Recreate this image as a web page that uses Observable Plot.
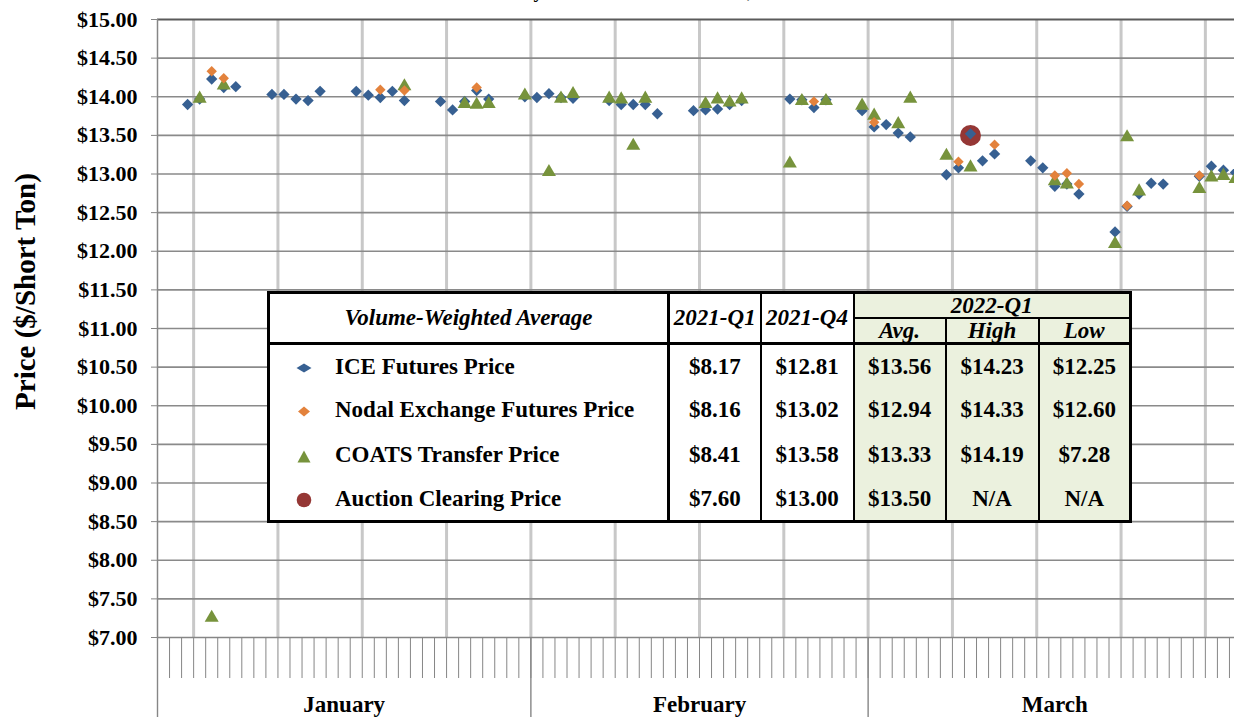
<!DOCTYPE html>
<html><head><meta charset="utf-8">
<script src="https://cdn.jsdelivr.net/npm/d3@7"></script>
<script src="https://cdn.jsdelivr.net/npm/@observablehq/plot@0.6"></script>
<style>
html,body{margin:0;padding:0;overflow:hidden;background:#fff;}
#wrap{position:relative;width:1234px;height:717px;overflow:hidden;}
#wrap svg.plot{position:absolute;left:0;top:0;}
#tbl{position:absolute;left:267px;top:291px;width:862px;height:228px;border-collapse:collapse;table-layout:fixed;
  font:bold 23px "Liberation Serif","Times New Roman",serif;background:#fff;color:#000;border:3px solid #000;}
#tbl td{padding:0;text-align:center;line-height:1;white-space:nowrap;overflow:hidden;}
#tbl .it{font-style:italic;}
#tbl .g{background:#ebf1de;}
#tbl .r3{border-right:3px solid #000;}
#tbl .r2{border-right:2px solid #000;}
#tbl .leg{text-align:left;padding-left:26px;}
#tbl .sym{display:inline-block;width:16px;margin-right:23px;vertical-align:middle;}
#tbl .sym svg{display:block;}
</style></head>
<body><div id="wrap"></div>
<script>
// ---------- data ----------
const iceDates = ["2022-01-03","2022-01-04","2022-01-05","2022-01-06","2022-01-07","2022-01-10","2022-01-11","2022-01-12","2022-01-13","2022-01-14","2022-01-17","2022-01-18","2022-01-19","2022-01-20","2022-01-21","2022-01-24","2022-01-25","2022-01-26","2022-01-27","2022-01-28","2022-01-31",
"2022-02-01","2022-02-02","2022-02-03","2022-02-04","2022-02-07","2022-02-08","2022-02-09","2022-02-10","2022-02-11","2022-02-14","2022-02-15","2022-02-16","2022-02-17","2022-02-18","2022-02-22","2022-02-23","2022-02-24","2022-02-25","2022-02-28",
"2022-03-01","2022-03-02","2022-03-03","2022-03-04","2022-03-07","2022-03-08","2022-03-09","2022-03-10","2022-03-11","2022-03-14","2022-03-15","2022-03-16","2022-03-17","2022-03-18","2022-03-21","2022-03-22","2022-03-23","2022-03-24","2022-03-25","2022-03-28","2022-03-29","2022-03-30","2022-03-31"];
const iceValues = [13.90,13.97,14.23,14.12,14.13,14.03,14.03,13.97,13.95,14.07,14.07,14.02,13.99,14.07,13.95,13.94,13.83,13.94,14.08,13.97,14.00,
13.99,14.04,13.99,13.98,13.95,13.90,13.90,13.90,13.78,13.82,13.83,13.84,13.90,13.95,13.97,13.96,13.86,13.96,13.82,
13.61,13.64,13.53,13.48,12.99,13.08,13.52,13.17,13.26,13.17,13.08,12.84,12.87,12.74,12.25,12.58,12.74,12.88,12.87,12.97,13.10,13.05,13.02];

const nodalDates = ["2022-01-05","2022-01-06","2022-01-19","2022-01-21","2022-01-27","2022-02-24","2022-03-01","2022-03-08","2022-03-11","2022-03-16","2022-03-17","2022-03-18","2022-03-22","2022-03-28"];
const nodalValues = [14.33,14.24,14.09,14.08,14.12,13.94,13.67,13.16,13.38,12.98,13.01,12.87,12.59,12.98];

const coatsDates = ["2022-01-04","2022-01-05","2022-01-06","2022-01-21","2022-01-26","2022-01-27","2022-01-28","2022-01-31",
"2022-02-02","2022-02-03","2022-02-04","2022-02-07","2022-02-08","2022-02-09","2022-02-10","2022-02-15","2022-02-16","2022-02-17","2022-02-18","2022-02-22","2022-02-23","2022-02-25","2022-02-28",
"2022-03-01","2022-03-03","2022-03-04","2022-03-07","2022-03-09","2022-03-16","2022-03-17","2022-03-21","2022-03-22","2022-03-23","2022-03-28","2022-03-29","2022-03-30","2022-03-31"];
const coatsValues = [14.00,7.28,14.17,14.16,13.93,13.92,13.93,14.04,
13.05,14.00,14.06,14.00,13.99,13.39,14.00,13.93,13.99,13.95,13.99,13.16,13.97,13.97,13.91,
13.78,13.67,14.00,13.26,13.11,12.93,12.89,12.12,13.50,12.80,12.83,12.98,13.00,12.96];

const auctionDates = ["2022-03-09"];
const auctionValues = [13.50];

const monthNames = ["January","February","March"];
const monthStartDates = ["2022-01-01","2022-02-01","2022-03-01","2022-04-01"];
const yTicks = [7,7.5,8,8.5,9,9.5,10,10.5,11,11.5,12,12.5,13,13.5,14,14.5,15];
const yLabel = "Price ($/Short Ton)";
const titleText = "Daily carbon allowance trades, 2022";

const tableHeader = "Volume-Weighted Average";
const tableCols = ["2021-Q1","2021-Q4"];
const tableGroup = "2022-Q1";
const tableSubCols = ["Avg.","High","Low"];
const tableSeries = ["ICE Futures Price","Nodal Exchange Futures Price","COATS Transfer Price","Auction Clearing Price"];
const vwa2021Q1 = ["$8.17","$8.16","$8.41","$7.60"];
const vwa2021Q4 = ["$12.81","$13.02","$13.58","$13.00"];
const vwa2022Avg = ["$13.56","$12.94","$13.33","$13.50"];
const vwa2022High = ["$14.23","$14.33","$14.19","N/A"];
const vwa2022Low = ["$12.25","$12.60","$7.28","N/A"];

// ---------- styles ----------
const FONT = '"Liberation Serif","Times New Roman",serif';
const C_ICE = "#376092", C_NODAL = "#e3823c", C_COATS = "#77933c", C_AUCTION = "#953735";

// ---------- helpers ----------
const parse = d3.utcParse("%Y-%m-%d");
const t0 = parse(monthStartDates[0]);
const dayOffset = s => (parse(s) - t0) / 864e5;
const rows = (dates, values) => dates.map((d, i) => ({day: dayOffset(d) + 0.5, price: values[i]}));
const ice = rows(iceDates, iceValues);
const nodal = rows(nodalDates, nodalValues);
const coats = rows(coatsDates, coatsValues);
const auction = rows(auctionDates, auctionValues);

const monthEdges = monthStartDates.map(dayOffset);
const nDays = monthEdges[monthEdges.length - 1];
const dayEdges = d3.range(0, nDays + 1);
const monthMids = monthNames.map((m, i) => (monthEdges[i] + monthEdges[i + 1]) / 2);
const weekGrid = d3.utcTuesday.range(t0, parse(monthStartDates[3])).map(d => (d - t0) / 864e5);

// title placement (only its lowest part shows at the top edge, as in the reference)
const cv = document.createElement("canvas").getContext("2d");
cv.font = `bold 20px ${FONT}`;
const wA = cv.measureText("Dail").width, wB = cv.measureText("Daily carbon allowance trades").width;
const titleSize = 20 * 214 / (wB - wA);
const titleDx = 533 - wA * titleSize / 20 - (157 + 1241) / 2;

const chart = Plot.plot({
  width: 1245, height: 717,
  marginLeft: 157, marginRight: 4, marginTop: 19, marginBottom: 80,
  x: {domain: [0, nDays], axis: null, label: null},
  y: {domain: [7, 15], axis: null, label: null},
  style: {fontFamily: FONT, fontSize: "22px", fontWeight: "bold", color: "#000", background: "transparent", maxWidth: "none", overflow: "visible"},
  marks: [
    Plot.ruleX(weekGrid, {stroke: "#c8c8c8", strokeWidth: 3}),
    Plot.ruleY(yTicks.filter(v => v > 7 && v < 15), {stroke: "#8a8a8a", strokeWidth: 1.6}),
    Plot.ruleY([15], {stroke: "#5a5a5a", strokeWidth: 2}),
    Plot.ruleY([7], {stroke: "#868686", strokeWidth: 1.5}),
    Plot.ruleX([0], {stroke: "#868686", strokeWidth: 1.5}),
    Plot.axisY(yTicks, {tickSize: 6, tickPadding: 14, tickFormat: v => "$" + v.toFixed(2), stroke: "#868686", fontSize: 22, label: null}),
    Plot.axisX(dayEdges, {tickSize: 41, tickFormat: () => "", stroke: "#868686", label: null}),
    Plot.axisX(monthEdges, {tickSize: 80, tickFormat: () => "", stroke: "#868686", strokeWidth: 1.4, label: null}),
    Plot.axisX(monthMids, {tickSize: 0, tickPadding: 58, tickFormat: (d, i) => monthNames[i], fontSize: 23, label: null}),
    Plot.text([yLabel], {frameAnchor: "left", textAnchor: "middle", rotate: -90, dx: -132, dy: -37, fontSize: 29, fontWeight: "bold"}),
    Plot.text([titleText], {frameAnchor: "top", textAnchor: "start", lineAnchor: "bottom", dx: titleDx, dy: -22, fontSize: titleSize, fontWeight: "bold"}),
    Plot.dot(auction, {x: "day", y: "price", r: 10.5, fill: C_AUCTION}),
    Plot.dot(ice, {x: "day", y: "price", symbol: "diamond2", r: 5.1, fill: C_ICE}),
    Plot.dot(coats, {x: "day", y: "price", symbol: "triangle", r: 5.2, fill: C_COATS, dy: 1.9}),
    Plot.dot(nodal, {x: "day", y: "price", symbol: "diamond2", r: 4.7, fill: C_NODAL})
  ]
});
const wrap = document.getElementById("wrap");
wrap.appendChild(chart);

// ---------- table ----------
function symbolSvg(kind, color) {
  if (kind === 0) return `<svg width="16" height="10"><polygon points="0.5,5 8,0.5 15.5,5 8,9.5" fill="${color}"/></svg>`;
  if (kind === 1) return `<svg width="16" height="11"><polygon points="2,5.5 8,0.5 14,5.5 8,10.5" fill="${color}"/></svg>`;
  if (kind === 2) return `<svg width="16" height="13"><polygon points="1.5,12.5 8,0.5 14.5,12.5" fill="${color}"/></svg>`;
  return `<svg width="16" height="16"><circle cx="8" cy="8" r="7.3" fill="${color}"/></svg>`;
}
const seriesColors = [C_ICE, C_NODAL, C_COATS, C_AUCTION];
let html = `<colgroup><col style="width:400px"><col style="width:92px"><col style="width:93px"><col style="width:92px"><col style="width:93px"><col style="width:92px"></colgroup>`;
html += `<tr style="height:25px"><td rowspan="2" class="it r3" style="border-bottom:3px solid #000">${tableHeader}</td>`
  + `<td rowspan="2" class="it r2" style="border-bottom:3px solid #000">${tableCols[0]}</td>`
  + `<td rowspan="2" class="it r2" style="border-bottom:3px solid #000">${tableCols[1]}</td>`
  + `<td colspan="3" class="it g" style="border-bottom:2px solid #000;vertical-align:bottom">${tableGroup}</td></tr>`;
html += `<tr style="height:25px">` + tableSubCols.map((s, i) => `<td class="it g ${i < 2 ? "r2" : ""}" style="border-bottom:3px solid #000;vertical-align:bottom;line-height:0.95">${s}</td>`).join("") + `</tr>`;
tableSeries.forEach((s, i) => {
  html += `<tr style="height:44.5px"><td class="leg r3"><span class="sym">${symbolSvg(i, seriesColors[i])}</span>${s}</td>`
    + `<td class="r2">${vwa2021Q1[i]}</td><td class="r2">${vwa2021Q4[i]}</td>`
    + `<td class="g r2">${vwa2022Avg[i]}</td><td class="g r2">${vwa2022High[i]}</td><td class="g">${vwa2022Low[i]}</td></tr>`;
});
const tbl = document.createElement("table");
tbl.id = "tbl";
tbl.innerHTML = html;
wrap.appendChild(tbl);
</script>
</body></html>
